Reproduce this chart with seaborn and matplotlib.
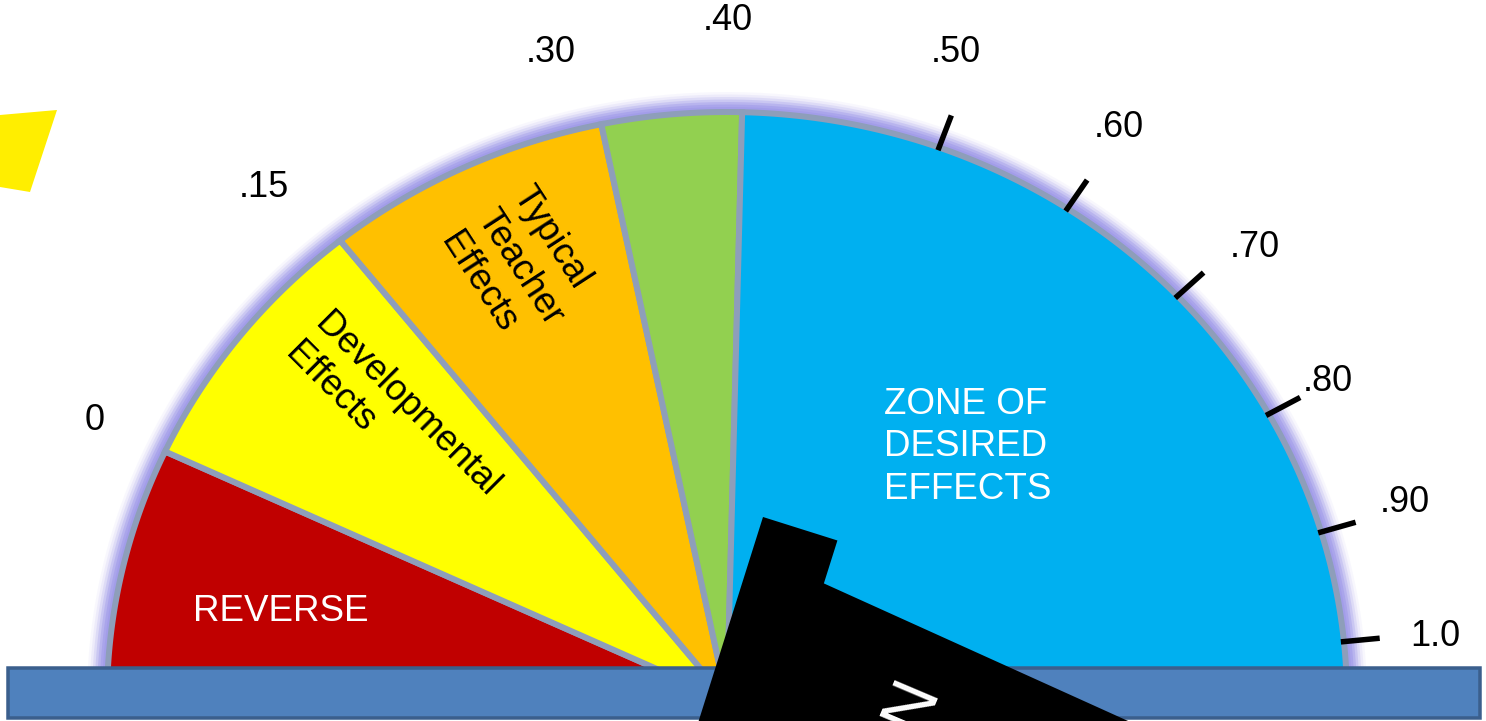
import numpy as np
import pandas as pd
import matplotlib
matplotlib.use("Agg")
import matplotlib.pyplot as plt
import seaborn as sns
from matplotlib.patches import Polygon, Rectangle

# ---- dial scale -------------------------------------------------------------
TICK_VALUES = [0.0, 0.15, 0.30, 0.40, 0.50, 0.60, 0.70, 0.80, 0.90, 1.0]
TICK_LABELS = ["0", ".15", ".30", ".40", ".50", ".60", ".70", ".80", ".90", "1.0"]
RIM_MARKS = [0.50, 0.60, 0.70, 0.80, 0.90, 1.0]

# ---- zones of the barometer ---------------------------------------------------
ZONE_NAMES = ["REVERSE", "Developmental\nEffects", "Typical\nTeacher\nEffects", "",
              "ZONE OF\nDESIRED\nEFFECTS"]
ZONE_EDGES = [-0.20, 0.0, 0.15, 0.30, 0.40, 1.20]

# ---- styling / layout ---------------------------------------------------------
ZONE_COLORS = ["#c00000", "#ffff00", "#ffc000", "#92d050", "#00b0f0"]
ZONE_TEXT_COLORS = ["white", "black", "black", "black", "white"]
# (angle in degrees, radius as fraction of the dial, rotation, alignment)
ZONE_TEXT_LAYOUT = [(168.2, 0.735, 0, "center"),
                    (138.6, 0.72, -45, "left"),
                    (114.5, 0.808, -57, "left"),
                    (0, 0, 0, "center"),
                    (47.9, 0.58, 0, "left")]
# where each tick value sits on the (non-linear) dial, degrees from the right
DIAL_ANGLES = [155.0, 128.6, 101.7, 88.6, 70.0, 56.7, 43.4, 29.1, 16.6, 5.7]
# placement of the printed scale numbers (angle, radius fraction)
LABEL_ANGLES = [155.0, 130.6, 104.5, 89.9, 71.5, 57.0, 42.1, 29.2, 17.1, 5.4]
LABEL_RADII = [1.125, 1.149, 1.138, 1.156, 1.162, 1.160, 1.148, 1.110, 1.144, 1.147]

CX, CY = 727.0, 700.0      # dial centre (canvas pixels)
RX, RY = 620.0, 588.0      # dial radii
W, H = 1486, 721
PX = 72.0 / 100.0          # points per pixel at 100 dpi

sns.set_theme(style="white")
plt.rcParams["font.family"] = ["Liberation Sans", "DejaVu Sans"]


def angle_of(v):
    v = np.atleast_1d(np.asarray(v, dtype=float))
    a = np.interp(v, TICK_VALUES, DIAL_ANGLES)
    lo_slope = (DIAL_ANGLES[1] - DIAL_ANGLES[0]) / (TICK_VALUES[1] - TICK_VALUES[0])
    hi_slope = (DIAL_ANGLES[-1] - DIAL_ANGLES[-2]) / (TICK_VALUES[-1] - TICK_VALUES[-2])
    a = np.where(v < TICK_VALUES[0], DIAL_ANGLES[0] + (v - TICK_VALUES[0]) * lo_slope, a)
    a = np.where(v > TICK_VALUES[-1], DIAL_ANGLES[-1] + (v - TICK_VALUES[-1]) * hi_slope, a)
    return np.clip(a, 0.0, 180.0)


def on_dial(angle_deg, r=1.0):
    t = np.radians(angle_deg)
    return CX + r * RX * np.cos(t), CY - r * RY * np.sin(t)


fig = plt.figure(figsize=(W / 100, H / 100), dpi=100)
ax = fig.add_axes([0, 0, 1, 1])

# soft lavender halo around the rim
rim_t = np.linspace(0, 180, 400)
rx_, ry_ = on_dial(rim_t, 1.0)
for lw, alpha in [(40, 0.07), (35, 0.12), (30, 0.2), (25, 0.3), (20, 0.42),
                  (15, 0.6), (10, 0.8)]:
    ax.plot(rx_, ry_, color="#a19be9", lw=lw * PX, alpha=alpha,
            solid_capstyle="butt", zorder=1)

# zone wedges
for lo, hi, col in zip(ZONE_EDGES[:-1], ZONE_EDGES[1:], ZONE_COLORS):
    a_hi, a_lo = angle_of(lo)[0], angle_of(hi)[0]
    arc = np.linspace(a_lo, a_hi, 120)
    xs, ys = on_dial(arc, 1.0)
    verts = np.column_stack([np.r_[CX, xs], np.r_[CY, ys]])
    ax.add_patch(Polygon(verts, closed=True, facecolor=col, edgecolor="#8e9eba",
                         lw=6 * PX, joinstyle="miter", zorder=2))

# zone captions
for name, tc, (ang, rr, rot, ma) in zip(ZONE_NAMES, ZONE_TEXT_COLORS, ZONE_TEXT_LAYOUT):
    if not name:
        continue
    x, y = on_dial(ang, rr)
    ax.text(x, y, name, color=tc, fontsize=26.5, rotation=rot, ha="center",
            va="center", multialignment=ma, linespacing=1.28,
            rotation_mode="anchor", zorder=4)

# rim marks
rows = []
for v in RIM_MARKS:
    a = angle_of(v)[0]
    for r in (0.995, 1.058):
        x, y = on_dial(a, r)
        rows.append({"mark": v, "x": x, "y": y})
marks = pd.DataFrame(rows)
sns.lineplot(data=marks, x="x", y="y", units="mark", estimator=None, sort=False,
             color="black", lw=5.5 * PX, ax=ax, zorder=5, legend=False)
for line in ax.lines[-len(RIM_MARKS):]:
    line.set_solid_capstyle("butt")

# scale labels
for lab, la, lr in zip(TICK_LABELS, LABEL_ANGLES, LABEL_RADII):
    x, y = on_dial(la, lr)
    ax.text(x, y, lab, fontsize=26, ha="center", va="center", color="black", zorder=5)

# base bar
ax.add_patch(Rectangle((8, 668), 1472, 50, facecolor="#4f81bd", edgecolor="#3b5f8d",
                       lw=3.5 * PX, zorder=6))

# yellow corner shape
ax.add_patch(Polygon([(0, 115), (57, 110), (30, 192), (0, 187)], closed=True,
                     facecolor="#ffee00", edgecolor="none", zorder=3))

# black pointer
anchor = np.array([763.0, 517.0])
d = np.array([-0.301, 0.954])
p = np.array([0.954, 0.301])
e = np.array([0.911, 0.412])
p1 = anchor + 78 * p
p2 = p1 + 45 * d
p3 = p2 + 500 * e
ax.add_patch(Polygon([anchor, p1, p2, p3, p3 + 400 * d, anchor + 400 * d],
                     closed=True, facecolor="black", edgecolor="none", zorder=7))
ax.text(895, 708, "N", color="white", fontsize=50, rotation=-113, ha="center",
        va="center", rotation_mode="anchor", zorder=8)

ax.set_xlim(0, W)
ax.set_ylim(H, 0)
ax.axis("off")

fig.savefig("out.png", dpi=100)
